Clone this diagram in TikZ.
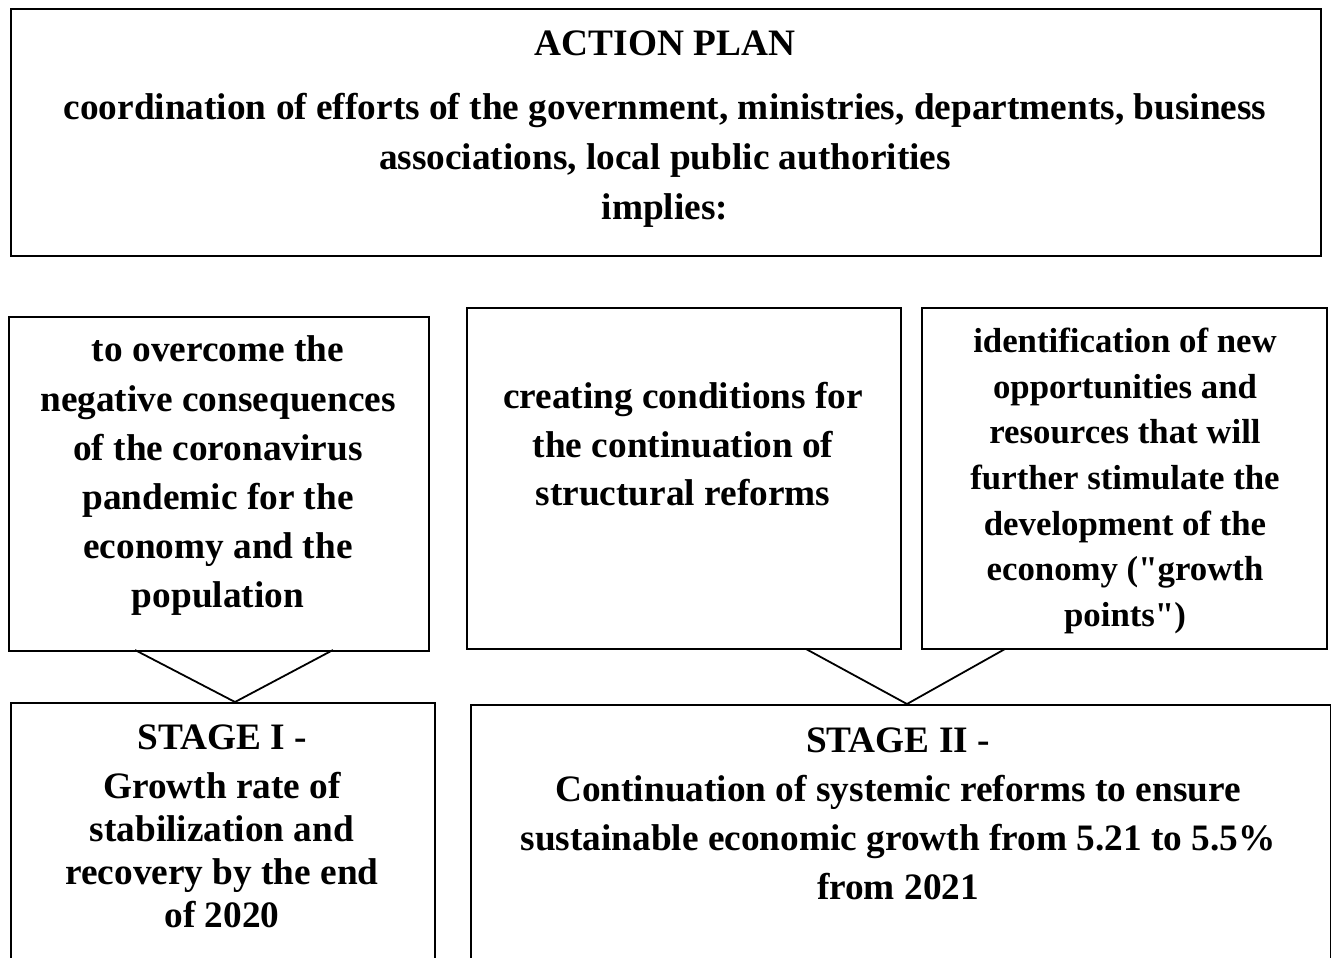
\documentclass[tikz,border=0pt]{standalone}
\usepackage{fontspec}
\setmainfont{Liberation Serif}
\newfontfamily\plainq{Liberation Serif}
\newcommand{\dq}{{\plainq\bfseries"}}
\begin{document}
\begin{tikzpicture}[x=1pt,y=-1pt,
  box/.style={draw=black,line width=1.8pt,minimum width=#1,inner sep=0pt,anchor=north west},
  txt/.style={inner sep=0pt,align=center,font=\fontsize{37.3}{#1}\selectfont\bfseries},
  txs/.style={inner sep=0pt,align=center,font=\fontsize{34.8}{#1}\selectfont\bfseries},
  tri/.style={draw=black,line width=1.8pt,line join=miter}]
\useasboundingbox (0,0) rectangle (1331,958);
\clip (0,0) rectangle (1331,958);
% boxes
\node[box=1310pt,minimum height=247pt] (top) at (10,8) {};
\node[box=420pt,minimum height=334pt] (b1) at (8,316) {};
\node[box=434pt,minimum height=341pt] (b2) at (466,307) {};
\node[box=405pt,minimum height=341pt] (b3) at (921,307) {};
\node[box=424pt,minimum height=300pt] (s1) at (10,702) {};
\node[box=860pt,minimum height=300pt] (s2) at (470,704) {};
% texts
\node[txt=50pt] (t0) at (665,43) {ACTION PLAN};
\node[txt=50pt] (t1) at (665,160) {coordination of efforts of the government, ministries, departments, business\\associations, local public authorities\\implies:};
\node[txt=49.2pt] (t2) at (218,476) {to overcome the\\negative consequences\\of the coronavirus\\pandemic for the\\economy and the\\population};
\node[txt=48.5pt] (t3) at (683,444.5) {creating conditions for\\the continuation of\\structural reforms};
\node[txs=45.7pt] (t4) at (1125,481) {identification of new\\opportunities and\\resources that will\\further stimulate the\\development of the\\economy (\dq growth\\points\dq)};
\node[txt=43pt] (t5) at (222,737) {STAGE I -};
\node[txt=43pt] (t6) at (222,850.5) {Growth rate of\\stabilization and\\recovery by the end\\of 2020};
\node[txt=49pt] (t7) at (898,813.5) {STAGE II -\\Continuation of systemic reforms to ensure\\sustainable economic growth from 5.21 to 5.5\%\\from 2021};
% connector triangles
\coordinate (a1) at (135,650);
\coordinate (a2) at (333,650);
\coordinate (c1) at (806,649);
\coordinate (c2) at (1005,649);
\draw[tri] (a1) -- (s1.north -| 235,0) -- (a2);
\draw[tri] (c1) -- (s2.north -| 907,0) -- (c2);
\end{tikzpicture}
\end{document}
